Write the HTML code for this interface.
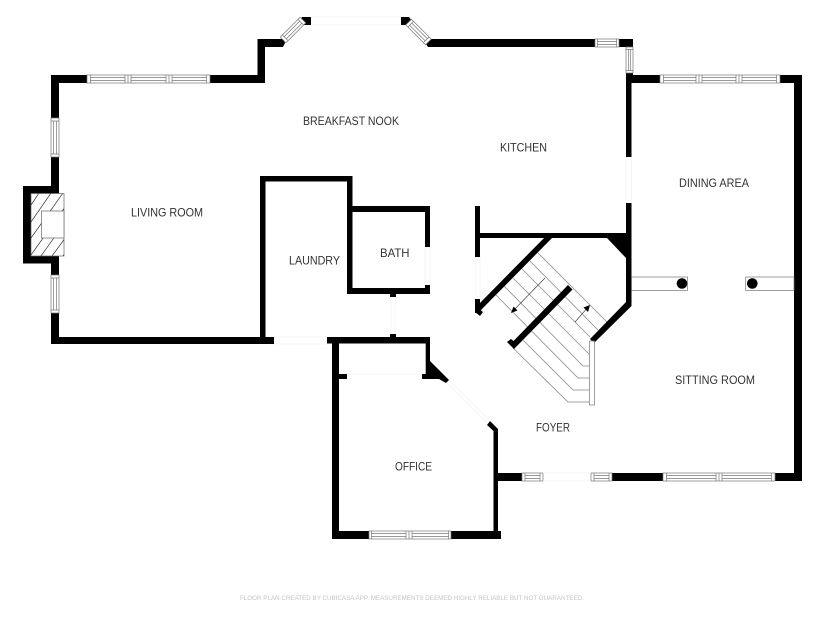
<!DOCTYPE html>
<html>
<head>
<meta charset="utf-8">
<style>
html,body{margin:0;padding:0;background:#fff;width:825px;height:619px;overflow:hidden}
svg{display:block}
text{font-family:"Liberation Sans",sans-serif;font-size:12px;fill:#333}
.w{fill:#fff;stroke:#777;stroke-width:.7}
.l{fill:none;stroke:#777;stroke-width:.7}
.g{fill:none;stroke:#f1f1f1;stroke-width:.7}
.t{fill:none;stroke:#888;stroke-width:.8}
</style>
</head>
<body>
<svg width="825" height="619" viewBox="0 0 825 619" xmlns="http://www.w3.org/2000/svg">
<rect width="825" height="619" fill="#fff"/>

<!-- stair treads (behind walls) -->
<path class="t" d="M538 253L607 322M530 261L598 330M522 269L590 337M513 278L589 354M504 286L583 366H589M496 295L578 378H589M523 340L573 390H589M513 348L568 402H589"/>

<!-- black walls -->
<g fill="#000">
  <!-- living room -->
  <rect x="51" y="75" width="36" height="8"/>
  <rect x="210" y="75" width="55" height="8"/>
  <rect x="51" y="75" width="8" height="43"/>
  <rect x="51" y="157" width="8" height="30"/>
  <rect x="51" y="263" width="8" height="12"/>
  <rect x="51" y="313" width="8" height="31"/>
  <rect x="51" y="337" width="223" height="7"/>
  <!-- fireplace -->
  <rect x="23" y="186" width="36" height="7.5"/>
  <rect x="23" y="256" width="36" height="7.5"/>
  <rect x="23" y="186" width="8" height="77.500"/>
  <!-- top -->
  <rect x="257.500" y="39" width="7.500" height="44"/>
  <polygon points="257.500,39 283,39 285,43 283,47 257.500,47"/>
  <polygon points="302,17 311,17 311,25 303,25 300,21"/>
  <polygon points="401,17 409,17 412,21 409,25 401,25"/>
  <polygon points="430,39 595,39 595,47 428,47 425,42.500"/>
  <rect x="619" y="39" width="14" height="8"/>
  <rect x="626" y="73" width="7" height="10"/>
  <!-- dining -->
  <rect x="626" y="75" width="34" height="8"/>
  <rect x="780" y="75" width="22" height="8"/>
  <rect x="794" y="75" width="8" height="405"/>
  <rect x="626" y="75" width="5.500" height="82"/>
  <rect x="626" y="203" width="5.500" height="103"/>
  <polygon points="626,302 631.500,306 594,343 590,339"/>
  <!-- stair box -->
  <rect x="475" y="206" width="5" height="51"/>
  <rect x="475" y="233" width="151" height="5"/>
  <rect x="475" y="299" width="5" height="14"/>
  <polygon points="607,238 626,238 626,258"/>
  <polygon points="545,237 552,238 480,311 476,307"/>
  <polygon points="475,312 478,308 483,312 480,316"/>
  <polygon points="507,342 511,339 513.500,341 568,285 572.500,289.500 514,349"/>
  <!-- laundry / bath -->
  <rect x="260" y="176" width="5.500" height="165"/>
  <rect x="260" y="176" width="92" height="5.500"/>
  <rect x="347" y="176" width="5.500" height="118"/>
  <rect x="347" y="206" width="83" height="6"/>
  <rect x="347" y="288" width="83" height="6"/>
  <rect x="425" y="206" width="5" height="41"/>
  <rect x="425" y="285" width="5" height="9"/>
  <rect x="390" y="294" width="6" height="3"/>
  <rect x="390" y="334" width="6" height="4"/>
  <!-- office -->
  <rect x="327" y="337" width="103" height="6.500"/>
  <rect x="332" y="337" width="7" height="202"/>
  <rect x="425.700" y="337" width="4.300" height="40"/>
  <polygon points="430,361 449,380 446,383 439,379 422,379 422,374 426,374"/>
  <rect x="339" y="374" width="8" height="5"/>
  <polygon points="490,421 498,429 498,539 493.500,539 493.500,431 487,425"/>
  <rect x="332" y="531" width="37" height="8"/>
  <rect x="451" y="531" width="50" height="8"/>
  <rect x="493.500" y="473" width="28.500" height="8"/>
  <rect x="612" y="473" width="51" height="8"/>
  <rect x="775" y="473" width="27" height="8"/>
</g>

<!-- windows: top living -->
<g>
  <rect class="w" x="87" y="75" width="123" height="8"/>
  <path class="l" d="M90.500 75V83M125 75V83M128 75V83M131 75V83M166 75V83M169 75V83M172 75V83M206.500 75V83M90.500 77.500H125M90.500 80.500H125M131 77.500H166M131 80.500H166M172 77.500H206.500M172 80.500H206.500"/>
  <!-- left windows -->
  <rect class="w" x="51" y="118" width="8" height="39"/>
  <path class="l" d="M51 121H59M51 154H59M53.500 121V154M56.500 121V154"/>
  <rect class="w" x="51" y="275" width="8" height="38"/>
  <path class="l" d="M51 278H59M51 310H59M53.500 278V310M56.500 278V310"/>
  <!-- diagonal top windows -->
  <g transform="translate(293 30) rotate(-45)">
    <rect class="w" x="-14" y="-4" width="28" height="8"/>
    <path class="l" d="M-11 -4V4M11 -4V4M-11 -1.500H11M-11 1.500H11"/>
  </g>
  <g transform="translate(418.500 32) rotate(45)">
    <rect class="w" x="-14" y="-4" width="28" height="8"/>
    <path class="l" d="M-11 -4V4M11 -4V4M-11 -1.500H11M-11 1.500H11"/>
  </g>
  <!-- top glass -->
  <path class="g" d="M311 17H401M311 25H401"/>
  <!-- kitchen windows -->
  <rect class="w" x="595" y="39" width="24" height="8"/>
  <path class="l" d="M597.500 39V47M616.500 39V47M597.500 41.500H616.500M597.500 44.500H616.500"/>
  <rect class="w" x="626" y="47" width="7" height="26"/>
  <path class="l" d="M626 49.500H633M626 70.500H633M628.500 49.500V70.500M630.500 49.500V70.500"/>
  <!-- dining top -->
  <rect class="w" x="660" y="75" width="120" height="8"/>
  <path class="l" d="M663.500 75V83M696 75V83M699 75V83M702 75V83M736 75V83M739 75V83M742 75V83M776.500 75V83M663.500 77.500H696M663.500 80.500H696M702 77.500H736M702 80.500H736M742 77.500H776.500M742 80.500H776.500"/>
  <!-- office bottom -->
  <rect class="w" x="369" y="531" width="82" height="8"/>
  <path class="l" d="M371.500 531V539M406 531V539M409 531V539M412 531V539M448.500 531V539M371.500 533.500H406M371.500 536.500H406M412 533.500H448.500M412 536.500H448.500"/>
  <!-- foyer bottom -->
  <rect class="w" x="522" y="473" width="21" height="8"/>
  <path class="l" d="M525 473V481M540 473V481M525 475.500H540M525 478.500H540"/>
  <rect class="w" x="591" y="473" width="21" height="8"/>
  <path class="l" d="M594 473V481M609 473V481M594 475.500H609M594 478.500H609"/>
  <path class="g" d="M543 473H591M543 481H591"/>
  <rect class="w" x="663" y="473" width="112" height="8"/>
  <path class="l" d="M666.500 473V481M716 473V481M719 473V481M722 473V481M771.500 473V481M666.500 475.500H716M666.500 478.500H716M722 475.500H771.500M722 478.500H771.500"/>
</g>

<!-- openings, faint lines -->
<path class="g" d="M274 337H327M274 344H327M347 374H422M391 297V334M395 297V334M425 247V285M430 247V285M475 257V299M480 257V299M626 157V203M631.500 157V203M447 383L487 423M450 381L490 421"/>

<!-- fireplace -->
<g>
  <rect x="31" y="193.500" width="33" height="62.500" fill="#fff" stroke="#666" stroke-width=".7"/>
  <clipPath id="fp"><rect x="31" y="193.500" width="33" height="62.500"/></clipPath>
  <g clip-path="url(#fp)" stroke="#333" stroke-width=".7">
    <path d="M31 205L39 193M31 222L51 193M31 238L63 193M31 255L73 196M41 256L66 221M52 256L74 226M63 256L72 244"/>
  </g>
  <rect x="41.500" y="211" width="22.500" height="27" fill="#fff" stroke="#666" stroke-width=".7"/>
</g>

<!-- stairs handrail and arrows -->
<g>
  <rect x="589.500" y="341" width="5" height="64" fill="#fff" stroke="#777" stroke-width=".7"/>
  <path d="M545 278L512 312M575 322L589 306" stroke="#444" stroke-width=".7" fill="none"/>
  <polygon points="511,313 513.500,306.500 517.500,310.500" fill="#000"/>
  <polygon points="590,305 588,312 583.500,307.500" fill="#000"/>
</g>

<!-- columns -->
<g>
  <rect x="631.500" y="277" width="56" height="13.500" fill="#fff" stroke="#777" stroke-width=".7"/>
  <circle cx="682" cy="283.500" r="5.300" fill="#000"/>
  <rect x="745.700" y="277" width="48.300" height="13.500" fill="#fff" stroke="#777" stroke-width=".7"/>
  <circle cx="752.300" cy="283.500" r="5.300" fill="#000"/>
</g>

<!-- labels -->
<text x="303" y="125" textLength="96" lengthAdjust="spacingAndGlyphs">BREAKFAST NOOK</text>
<text x="500" y="151.500" textLength="47" lengthAdjust="spacingAndGlyphs">KITCHEN</text>
<text x="679" y="187" textLength="70" lengthAdjust="spacingAndGlyphs">DINING AREA</text>
<text x="131" y="216.500" textLength="72" lengthAdjust="spacingAndGlyphs">LIVING ROOM</text>
<text x="380" y="257" textLength="29.500" lengthAdjust="spacingAndGlyphs">BATH</text>
<text x="289" y="264.500" textLength="51" lengthAdjust="spacingAndGlyphs">LAUNDRY</text>
<text x="675" y="384" textLength="80" lengthAdjust="spacingAndGlyphs">SITTING ROOM</text>
<text x="536" y="431.500" textLength="34" lengthAdjust="spacingAndGlyphs">FOYER</text>
<text x="395" y="470.500" textLength="37" lengthAdjust="spacingAndGlyphs">OFFICE</text>
<text x="240" y="600" textLength="344" lengthAdjust="spacingAndGlyphs" style="font-size:6.5px;fill:#c4c4c4">FLOOR PLAN CREATED BY CUBICASA APP. MEASUREMENTS DEEMED HIGHLY RELIABLE BUT NOT GUARANTEED.</text>
</svg>
</body>
</html>
